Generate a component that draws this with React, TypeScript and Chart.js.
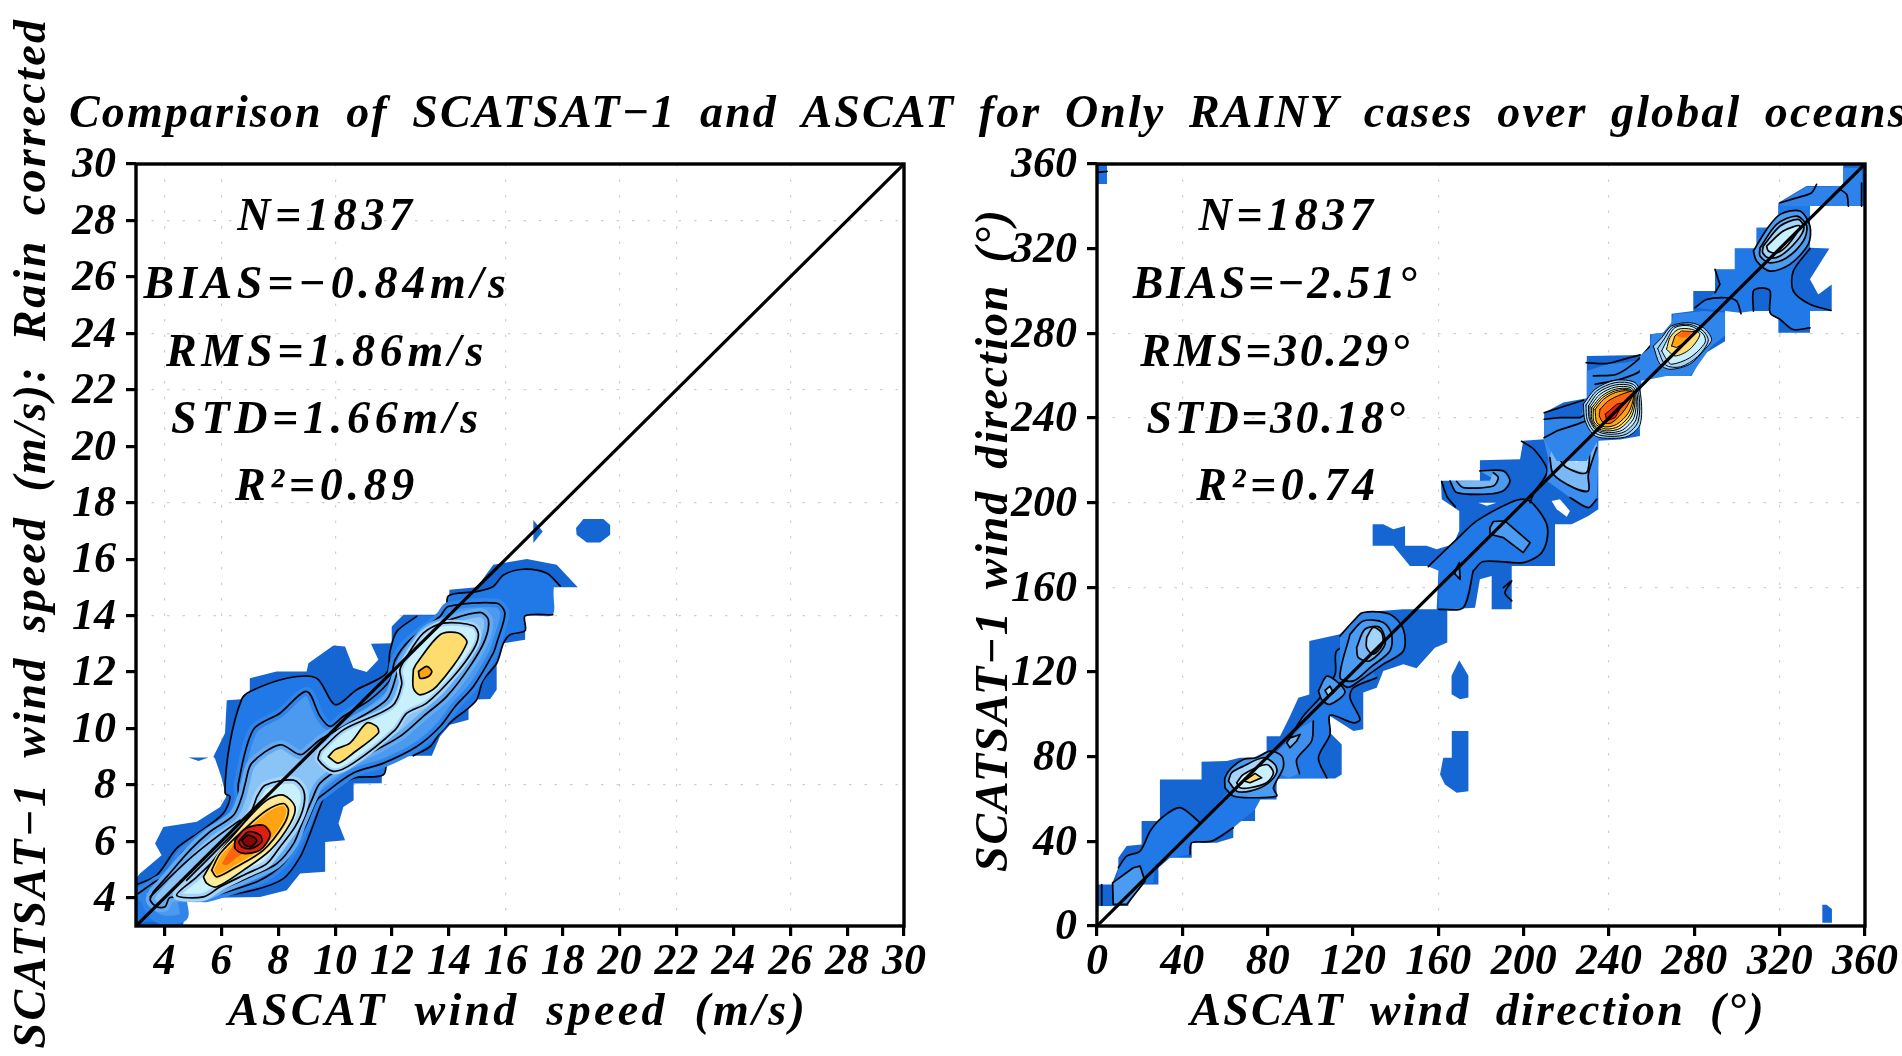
import React, { useEffect, useRef } from "react";
import { Chart, registerables } from "chart.js";

Chart.register(...registerables);

type P = number[][];

// ---------- text ----------
const titleText = "Comparison of SCATSAT\u22121 and ASCAT for Only RAINY cases over global oceans";
const speedYLabel = "SCATSAT\u22121 wind speed (m/s): Rain corrected";
const speedXLabel = "ASCAT wind speed (m/s)";
const dirYLabel = "SCATSAT\u22121 wind direction (\u00b0)";
const dirXLabel = "ASCAT wind direction (\u00b0)";
const speedStats = ["N=1837", "BIAS=\u22120.84m/s", "RMS=1.86m/s", "STD=1.66m/s", "R\u00b2=0.89"];
const dirStats = ["N=1837", "BIAS=\u22122.51\u00b0", "RMS=30.29\u00b0", "STD=30.18\u00b0", "R\u00b2=0.74"];

// ---------- axes ----------
const speedTicks = [4, 6, 8, 10, 12, 14, 16, 18, 20, 22, 24, 26, 28, 30];
const dirTicks = [0, 40, 80, 120, 160, 200, 240, 280, 320, 360];
const speedGridX = [4, 6, 10, 16, 20, 22, 26];
const speedGridY = [8, 14, 18, 22, 24, 28];
const dirGridX = [40, 160, 240, 320];
const dirGridY = [160, 200, 240, 280];
const speedDiagonal: P = [[3, 3], [30, 30]];
const dirDiagonal: P = [[0, 0], [360, 360]];

// ---------- wind speed density contours (x, y in m/s) ----------
const sMask: P = [[3,3],[3,4.68],[3.14,4.86],[3.9,5.51],[3.67,5.92],[3.96,6.51],[5.14,6.69],[5.96,7.22],[6.17,7.58],[6,8.28],[5.78,8.93],[5.72,9],[6.13,9.84],[6.19,11],[6.98,11.05],[7,11.78],[7.94,12.02],[9,12.02],[9.06,12.31],[9.94,12.94],[10.35,12.9],[10.64,12.14],[11.11,12],[11.52,12.43],[11.26,13],[11.99,13.02],[11.99,13.61],[12.4,14.03],[13.98,14.03],[14.02,14.91],[14.98,15],[15.56,15.8],[16.74,16],[17.79,15.8],[18.53,15],[17.68,15],[17.65,14.03],[16.68,13.99],[16.68,13.14],[15.92,13.02],[15.68,12.31],[15.68,11.37],[15.45,11.04],[14.69,11.02],[14.69,10.31],[14.04,10.13],[13.69,9.72],[13.4,9.03],[11.81,9.03],[11.64,8.83],[11.64,8.06],[10.65,8.05],[10.65,7.46],[10.29,7.22],[10.12,6.63],[10.35,6.04],[9.65,5.98],[9.65,4.92],[8.77,4.86],[8.3,4.27],[7.36,4.03],[4.67,3.98],[4.67,3.09],[4.6,3]];
const sBlobA: P = [[18.47,17.1],[18.73,17.42],[19.43,17.42],[19.67,17.21],[19.67,16.86],[19.32,16.59],[18.85,16.59],[18.49,16.86]];
const sBlobB: P = [[16.97,17.39],[17.3,16.98],[16.97,16.57]];
const sBlobC: P = [[4.84,8.97],[5.55,8.97],[5.2,8.85]];
const sLevel2: P = [[3,4.45],[3.73,4.8],[4.43,5.75],[5.25,6.34],[6.07,6.99],[6.31,7.58],[6.13,7.71],[6.3,9.48],[6.71,11.02],[7.01,11.31],[8.3,11.78],[9.35,11.78],[10,10.84],[10.76,11.37],[11.81,11.96],[11.93,12.73],[12.17,13.44],[12.87,13.97],[13.98,14.03],[13.98,14.7],[14.98,14.85],[15.56,15.03],[15.92,15.44],[16.62,15.64],[17.44,15.5],[17.91,15.05],[17.68,15],[17.65,14.03],[16.68,13.99],[16.68,13.47],[16.15,13.32],[15.92,13.02],[15.68,12.31],[15.21,11.72],[14.98,11.02],[14.69,10.72],[14.16,10.31],[13.69,9.84],[13.34,9.36],[12.75,9.03],[11.81,9.03],[11.7,8.36],[10.64,8.24],[9.7,7.71],[9.47,7.22],[9.12,6.28],[8.77,5.45],[8.18,4.68],[7.13,4.27],[5.72,4.03],[4.67,3.98],[4.67,3.27],[3.5,3.15],[3,3.1]];
const sLevel3: P = [[3.08,4.15],[3.67,4.57],[4.2,4.86],[4.61,5.57],[5.37,6.22],[6.31,6.87],[6.6,7.46],[6.6,8.06],[7.12,9.95],[8.06,10.54],[9,11.31],[9.47,10.43],[9.82,10.07],[10.29,10.43],[11.23,11.02],[11.93,11.72],[12.11,12.43],[12.63,13.14],[13.69,13.97],[13.98,14.32],[15.68,14.44],[15.97,14.09],[15.68,13.02],[15.56,12.67],[14.86,11.49],[14.22,10.78],[13.69,10.07],[12.87,9.36],[11.7,8.77],[10.64,8.42],[9.64,7.71],[9.36,7.46],[9,6.63],[8.65,5.92],[8.18,5.21],[7.36,4.62],[6.19,4.21],[5.49,4.01],[4.67,3.98],[4.67,3.33],[3.96,3.21],[3.55,3.44],[3.32,3.92],[3.08,4.15]];
const sLevel4: P = [[3.61,4.21],[4.08,4.74],[4.9,5.69],[5.6,6.34],[6.43,6.93],[6.72,7.58],[6.84,8.05],[7.07,8.77],[8.06,9.42],[8.77,9.07],[9.12,9.3],[9.47,9.6],[10.29,10.07],[11.81,11.02],[12.22,12.08],[12.52,12.67],[13.22,13.5],[14.04,13.85],[15.1,14.11],[15.39,13.85],[15.27,13.14],[14.74,12.2],[13.92,11.13],[13.1,10.43],[12.28,9.72],[11.23,9.13],[10.29,8.66],[9.47,8.06],[9.18,7.46],[8.83,6.63],[8.54,5.92],[7.95,5.21],[7.13,4.8],[6.07,4.33],[5.25,4.01],[4.2,4.01],[4.02,3.68],[3.73,3.68],[3.5,3.92],[3.61,4.21]];
const sCyanUpper: P = [[9.47,9.19],[10.29,9.95],[11.99,10.78],[12.34,11.55],[12.28,12.08],[12.52,12.55],[13.1,13.38],[13.81,13.73],[14.86,13.64],[15.04,13.32],[14.86,12.79],[14.16,11.84],[13.22,10.9],[12.52,10.54],[12.11,9.95],[10.64,8.77],[9.94,8.48],[9.41,8.89],[9.47,9.19]];
const sYellowTop: P = [[12.75,12.08],[12.87,12.31],[13.69,13.32],[14.33,13.38],[14.63,13.02],[13.57,11.49],[12.99,11.19],[12.75,11.43],[12.75,12.08]];
const sOrangeTop: P = [[12.93,12.02],[13.22,12.2],[13.4,12.02],[13.28,11.84],[12.99,11.78],[12.93,12.02]];
const sYellowMid: P = [[9.76,9],[10,9.25],[10.52,9.48],[11.11,10.19],[11.46,10.07],[11.52,9.84],[10.64,9.13],[10.11,8.77],[9.76,9]];
const sCyanLow: P = [[7.25,7.58],[7.54,7.99],[8.54,8.17],[8.89,7.81],[8.89,7.22],[8.59,6.51],[8.07,5.81],[7.6,5.21],[6.9,4.86],[5.96,4.39],[5.37,4.03],[4.43,4.09],[5.14,4.74],[6,5.6],[7,6.95],[7.25,7.58]];
const sYellowLow: P = [[5.37,4.74],[5.72,5.33],[6.78,6.63],[7.6,7.46],[8.18,7.64],[8.59,7.22],[8.42,6.63],[7.72,5.69],[6.78,4.98],[5.84,4.39],[5.49,4.51],[5.37,4.74]];
const sOrange: P = [[5.66,4.98],[5.96,5.57],[6.9,6.51],[7.6,7.1],[8.18,7.34],[8.36,7.1],[8.18,6.57],[7.48,5.69],[6.54,5.1],[5.84,4.74],[5.66,4.98]];
const sOrangeRed: P = [[6.02,5.21],[6.31,5.69],[6.9,6.45],[7.54,6.57],[7.77,6.28],[7.48,5.92],[6.66,5.51],[6.19,5.16],[6.02,5.21]];
const sRed: P = [[6.48,6.04],[6.84,6.45],[7.48,6.57],[7.72,6.22],[7.36,5.69],[6.78,5.57],[6.48,5.75],[6.48,6.04]];
const sDarkRed: P = [[6.6,5.98],[6.95,6.34],[7.36,6.22],[7.42,5.98],[7.07,5.75],[6.72,5.8],[6.6,5.98]];
const sDeepRed: P = [[6.72,6.04],[6.95,6.22],[7.25,6.04],[7.07,5.83],[6.84,5.86],[6.72,6.04]];
const sRidgeA: P = [[3.5,4.03],[4.08,4.62],[4.96,5.45],[5.84,6.16],[6.66,6.75]];
const sRidgeB: P = [[4.78,4.62],[5.37,5.21],[6.19,6.04],[6.84,6.69]];

// ---------- wind direction density contours (x, y in degrees) ----------
const dMask: P = [[0,9.4],[0,19.6],[6.9,19.6],[10,27.5],[10,32.2],[13.9,37.8],[20.9,38.5],[20.9,49.6],[29.5,49.6],[29.5,69.2],[49,69.2],[49,77.6],[60.8,77.9],[67,79.5],[73.3,79.5],[79.5,82.6],[79.5,89.7],[85.8,89.7],[90.5,99.2],[94.4,107.8],[99.5,109.4],[99.5,134.6],[113.9,137.8],[120.2,144.1],[123.3,148.1],[143.6,149.6],[159.2,149.6],[160.2,170.1],[146.7,170.1],[138.9,179.6],[129.2,179.6],[129.2,189.8],[134.2,189.8],[138.9,187.4],[144.4,189],[144.4,179.6],[154.5,179.6],[159.2,178],[167,180.4],[169.8,186.7],[169.8,196.1],[161.6,201.6],[161.2,210.3],[179.5,210.3],[179.5,220],[198.3,220.5],[199.8,229.2],[209.6,230],[209.6,242.5],[218.6,247.3],[229.6,249.3],[229.6,269.3],[255.4,269.8],[259.2,273],[259.2,279.6],[265.4,280.3],[269.3,285],[269.3,289.3],[279.5,290.5],[279.5,300],[289.7,300],[289.7,310.2],[299,310.2],[299,320.1],[309.2,320.1],[309.2,329.9],[319.4,329.9],[319.4,341.7],[332.6,349.6],[349.8,349.6],[349.8,360],[360,360],[360,340.1],[334.2,340.1],[334.2,320.4],[343.3,320.1],[334.2,305.5],[338.1,298.4],[344.4,303.1],[344.4,290.5],[334.2,290.5],[334.2,280.3],[319.4,280.3],[319.4,290.5],[294.4,290.5],[294.4,276.3],[284.2,270],[278.7,259.8],[264.7,259.8],[254.5,258],[254.5,231.5],[245.2,229.9],[235,229.2],[235,196.9],[230.3,193.7],[222.5,189.8],[214.7,189.8],[214.7,170.1],[194.4,170.1],[194.4,149.6],[185,149.6],[185,165.4],[179.5,163.8],[177.2,150.4],[164.2,149.6],[164.2,133.9],[158.4,131.5],[149.8,121.8],[143.6,123.7],[134.2,120.5],[131.1,112.6],[124.8,110.3],[124.8,92.9],[120.2,92.1],[109.2,99.2],[108.4,92.1],[114.7,85.8],[114.7,71.6],[111.6,69.7],[84.2,69.7],[84.2,59.8],[74.1,59.8],[74.1,49.6],[63.9,49.6],[63.9,41.7],[56.1,39.3],[44.4,39.3],[44.4,32.2],[34.2,32.2],[28.8,27.5],[28.8,19.6],[20.2,19.6],[14.7,10.2],[14.7,9.4]];
const dBlobA: P = [[166.2,118.2],[169.8,125.6],[174.1,118.2],[174.1,107.9],[170.2,107.1],[166.2,109.5]];
const dBlobB: P = [[166.3,92.1],[174.1,92.1],[174.1,63.7],[168.6,62.9],[163.1,66.9],[160.8,71.6],[162.3,79.5],[166.3,79.5]];
const dBlobC: P = [[340,1.5],[344.5,1.5],[344.5,8],[342,10],[340,10]];
const dCorner: P = [[0,360],[4.7,360],[4.7,350.5],[0,350.5]];
const dLowRibbon: P = [[10,27.5],[13.9,33],[20.2,35.4],[24.9,44.8],[30.3,51.1],[38.9,55.9],[48.3,48.8],[60,62],[70,72],[85,75],[74.1,55.1],[63.9,46.4],[53.8,40.1],[44.4,39.3],[43.6,33.8],[34.2,32.2],[27.2,29.1],[26.4,20.4],[20.2,19.6],[14.7,10.2],[9,20]];
const dFoot: P = [[7.3,20.4],[17,27.5],[20.2,28.3],[22.5,21.2],[13.9,10.2],[7.6,10.2],[7.3,20.4]];
const d70a: P = [[60,65.3],[60,70],[63.1,74.8],[68.6,78.7],[74.8,79.5],[81.1,82.6],[86.6,80.3],[87.3,74.8],[82.7,65.3],[84.2,61.4],[71.7,60.6],[63.9,61.4],[60,65.3]];
const d70b: P = [[61.6,68.5],[63.1,72.4],[68.6,75.5],[78,79.5],[83.4,76.3],[84.2,72.4],[79.5,66.9],[71.7,63.7],[65.5,63.7],[61.6,68.5]];
const d70c: P = [[65.5,67.7],[68.6,71.6],[79.5,76.3],[82.7,72.4],[79.5,67.7],[71.7,65.3],[67,65.3],[65.5,67.7]];
const d70d: P = [[68.9,68.5],[74.1,72.1],[77.2,70],[71.7,67.7],[68.9,68.5]];
const dMidBand: P = [[85.8,80.3],[90.5,88.9],[96.7,99.2],[104.5,107.8],[111.6,118.9],[112.3,129.9],[121.7,133.8],[131.1,117.3],[120.2,112.6],[118.6,107.8],[123.3,97.6],[120.2,96],[109.2,99.6],[109.2,90.5],[103.8,79.5],[107.7,70],[84.2,69.7]];
const dMidInner: P = [[85.8,71.6],[84,82],[96,94],[101.4,96.8],[100.6,87.4],[93.6,78.7],[94.9,72],[90,70]];
const dMidLoop: P = [[88.9,86.6],[90.5,88.9],[95.2,90.5],[93.6,87.4],[90.5,84.2],[88.9,86.6]];
const d110a: P = [[103.8,111],[107.7,118],[113.1,114.9],[116.2,110.2],[109.2,104.7],[105.3,107],[103.8,111]];
const d110b: P = [[106.9,111.3],[109.2,113.3],[110.8,110.2],[108.4,108.6],[106.9,111.3]];
const d130a: P = [[113.9,137],[120.2,144.1],[124.8,148.1],[137.3,147.3],[143.6,140.2],[143.6,129.9],[134.2,123.7],[124.1,116.6],[117.8,112.7],[113.9,115]];
const d130b: P = [[118.6,137.8],[124.8,144.1],[134.2,143.4],[138.1,137.8],[137.3,129.9],[128,122.1],[120.2,115.8],[113.9,117.4],[118.6,137.8]];
const d130c: P = [[121.7,131.5],[125.6,140.2],[132.6,141],[135,133.1],[128,125.3],[122.5,126.8],[121.7,131.5]];
const d130d: P = [[126.4,136.3],[129.5,141],[133.4,138.6],[133.9,133.1],[129.5,128.4],[126.4,131.5],[126.4,136.3]];
const d180: P = [[155.3,169.8],[169.4,183.5],[178,191.4],[193.6,200],[200.6,201.6],[205.3,198.5],[210.8,189.8],[210.8,181.9],[207.7,175.6],[199.8,171.7],[181.1,172.2],[176.4,167.8],[171.7,150.4],[160.2,149.6],[160.2,167.8]];
const d180Loop: P = [[184.2,188.2],[185.8,191.1],[191.2,191.4],[203,181.1],[199.8,176.4],[190.5,183.5],[184.2,185.1],[184.2,188.2]];
const d165Loop: P = [[167.8,167.8],[169.8,171.7],[170.2,163.8],[167.8,166.2],[167.8,167.8]];
const d190Line: P = [[190.5,159.9],[194.4,163],[191.2,157.5],[194.4,153.6]];
const dHoleA: P = [[178.7,200],[187.3,200],[182.7,198.5]];
const dHoleB: P = [[213.1,200.8],[217,201.6],[221.7,196.1],[220.2,193.3],[215.5,196.9]];
const d205a: P = [[165.5,210.3],[168.6,204.8],[182.7,204],[190.5,205.6],[193.6,210.3],[190.5,215],[179.5,215],[187.3,210.3]];
const d205b: P = [[168.6,210],[171.7,207.1],[185.8,207.9],[188.1,211.9],[185.8,214.2],[184.2,210.3]];
const d205Line: P = [[161.6,210],[164,203],[168,198]];
const d225a: P = [[209.2,230.8],[211.6,220.5],[210.8,210.3],[221.7,202.4],[230.3,197.7],[234.2,201.6],[235,219.7],[234.2,233.9]];
const d225b: P = [[212.3,221.3],[213.9,229.2],[220.1,233.9],[234.2,233.9],[234.2,226],[230.3,213.4],[230.3,205.6],[223.3,207.1],[213.9,213.4],[212.3,221.3]];
const d225c: P = [[215.5,222.9],[218.6,229.2],[224.8,233.9],[231.1,233.9],[231.1,227.6],[229.5,214.2],[220.1,216.6],[215.5,222.9]];
const d225d: P = [[221.7,221.3],[224.1,227.6],[231.1,233.9],[235,233.9],[229.5,222.9],[224.8,218.9],[221.7,221.3]];
const d200Line: P = [[199,229],[205,225],[211,215],[205,205],[203,200]];
const d240Base: P = [[209.6,239.4],[217.1,240.2],[226.5,240.2],[229.6,248.8],[229.6,262.2],[239,265.4],[248.3,266.2],[255.4,267.7],[254.6,234.7],[245.2,230.7],[235,230],[229.6,219.7],[215.5,219.7],[209.6,230]];
const d240a: P = [[228,246.5],[233.5,253.6],[242.9,257.8],[252.2,256.7],[254.9,250.4],[254.6,237],[249.1,231.5],[241.3,230.4],[233.5,231.5],[228.8,238.6],[228,246.5]];
const d240a2: P = [[229.2,246.1],[234.2,252.8],[242.9,256.7],[251.4,255.9],[254.1,250.4],[253.6,238.2],[248.3,232.5],[240.9,231.3],[233.9,232.7],[229.8,239],[229.2,246.1]];
const d240b: P = [[230.4,245.7],[235,252],[242.9,255.6],[250.7,255.1],[253.3,250.4],[252.7,239.4],[247.5,233.6],[240.5,232.3],[234.3,233.9],[230.8,239.4],[230.4,245.7]];
const d240b2: P = [[231.1,245.3],[235.8,251.2],[242.9,254.6],[250.3,254.3],[252.7,250],[251.7,240.2],[246.3,234.3],[239.7,233.1],[234.3,234.7],[231.3,239.4],[231.1,245.3]];
const d240c: P = [[231.9,244.9],[236.6,250.4],[242.9,253.6],[249.9,253.6],[252.2,249.6],[250.7,241],[245.2,235.1],[239,233.9],[234.3,235.5],[231.9,239.4],[231.9,244.9]];
const d240c2: P = [[232.7,244.5],[237,249.6],[242.9,252.8],[249.5,253.2],[251.8,250],[249.9,241.7],[244.4,236],[238.6,234.8],[234.3,236.6],[232.7,239],[232.7,244.5]];
const d240d: P = [[233.5,244.1],[237.4,248.8],[242.9,252],[249.1,252.8],[251.5,250.4],[249.1,242.5],[243.6,237],[238.2,235.8],[234.3,237.8],[233.5,244.1]];
const d240e: P = [[235.8,244.1],[239.7,248.1],[246,251.2],[251.5,252.5],[247.5,244.1],[241.3,237.8],[237.4,237.8],[235.5,241],[235.8,244.1]];
const d240f: P = [[238.2,241.8],[243.6,246.5],[246.8,247.3],[242.9,240.2],[239,238.6],[238.2,241.8]];
const d240Line1: P = [[209.6,242.5],[219.4,245.7],[228,248.4]];
const d240Line2: P = [[209.6,239.4],[217.1,240.2],[226.5,240.2],[231.1,243]];
const d240Line3: P = [[209.6,230.7],[215.5,233.9],[224.9,237],[231.1,239.4]];
const d240Line4: P = [[229.3,266.2],[238.9,265.7],[246.8,267.7],[254.6,269.8]];
const d240Line5: P = [[232.7,259.9],[243.6,260.7],[253,267],[260,274.8]];
const d240Line6: P = [[233.5,255.9],[245.2,258.3],[254.6,262.2],[260.8,271.7]];
const d280Base: P = [[254.5,269.3],[259.2,273.3],[260,279.6],[265.4,280.3],[269.3,285],[270.1,289],[277.9,289.8],[284.2,290.6],[294.3,289.8],[294.3,278.8],[288.1,274],[282.6,266.2],[278,259.9],[267,259.9],[259.2,258.3],[254.5,257.5]];
const d280a: P = [[260.8,274],[264.7,278],[269.3,283.5],[277.9,285],[284.2,282.7],[288.1,277.2],[285,272.5],[277.9,265.4],[268.6,263],[263.9,265.4],[260.8,274]];
const d280a2: P = [[262.8,272.8],[265.8,277.2],[270.1,283.1],[277.9,284.2],[284.2,281.1],[286.5,276.4],[281.5,269],[273.6,264.2],[266.5,265],[262.8,272.8]];
const d280b: P = [[264.7,271.7],[267,276.4],[270.9,282.7],[277.9,283.5],[284.2,279.6],[285,275.6],[277.9,268.5],[269.3,265.4],[267,267.7],[264.7,271.7]];
const d280c: P = [[267,272.5],[268.6,278],[272.5,281.9],[278.7,281.9],[282.6,279.6],[277.9,272.5],[270.9,269.3],[267,272.5]];
const d280d: P = [[269.3,274],[270.9,278.8],[274,281.1],[280.3,280.8],[275.6,275.6],[271.7,273.3],[269.3,274]];
const d280e: P = [[271.7,278.8],[274.8,280.8],[279.5,280.8],[276.4,278],[274,278],[271.7,278.8]];
const dUpper: P = [[280.3,292.1],[289.7,299.2],[292,303.1],[289.7,310.2],[299,310.2],[299,320.1],[307.7,320.1],[334.2,320.1],[326.4,309.4],[326.4,300],[334.2,293.7],[343.6,290.5],[334.2,290.5],[334.2,282.6],[326.4,281.8],[320.2,286.6],[315.5,289.7],[315.5,300],[311.6,301.5],[307.7,300],[307.7,290.5],[301.4,289.7],[294.4,290.5]];
const dUpperB: P = [[309.2,320.1],[309.2,329.9],[319.4,329.9],[319.4,340.1],[334.2,340.1],[334.2,320.1]];
const dTopBand: P = [[320.2,340.1],[320.2,341.7],[332.6,349.1],[349.8,349.6],[349.8,358.2],[358.4,358.2],[359.2,340.1]];
const dUpperLine1: P = [[280.3,292.1],[285.8,296],[295.2,296.8],[299.8,295.2],[301.9,289.3]];
const dUpperLine2: P = [[307.7,290.5],[307.7,300],[311.6,301.5],[315.5,300],[315.5,289.7],[320.2,286.6],[326.4,281.8],[334.2,282.6]];
const dUpperLine3: P = [[334.2,320.1],[326.4,309.4],[326.4,300],[334.2,293.7],[344,290.8]];
const dUpperLine4: P = [[320.2,341.7],[328,344],[335,346.4],[337.3,350.4]];
const dUpperLine5: P = [[348.3,348],[351.4,345.6],[352.2,340.1]];
const dUpperLine6: P = [[358.4,351],[358.4,340.1]];
const dUpperLine7: P = [[289.7,299.2],[292,303.1],[289.7,310.2]];
const d320a: P = [[307.7,318.9],[313.9,329.1],[320.2,336.2],[329.5,337.8],[334.2,330.7],[333.4,322],[324.8,312.6],[315.5,309.4],[309.2,314.1],[307.7,318.9]];
const d320b: P = [[310.8,320.4],[318.6,331.5],[328,335.4],[332.7,330.7],[331.1,323.6],[323.3,315.7],[315.5,313.3],[310.8,316.5],[310.8,320.4]];
const d320c: P = [[312.3,321.2],[320.2,330.7],[328.7,333.8],[331.4,329.9],[328,323.6],[320.2,316.5],[314.7,315.7],[312,318.1],[312.3,321.2]];
const d320d: P = [[313.9,321.2],[321.7,328.3],[329.5,330.7],[324,322],[318.6,318],[314.7,318.9],[313.9,321.2]];
const dStripLine: P = [[2.2,19.6],[2.2,10]];
const dCornerLine: P = [[0.5,356],[4.7,356.5]];

// ---------- colours ----------
const C = {
  mask: "#1565d3", l2: "#2079e6", l3: "#3f90ee", l4: "#72b4f5", l5: "#a4d4fa",
  cyan: "#c9f1fd", pale: "#fdeb9c", yellow: "#fedd6e", orange: "#ffa313",
  orangeRed: "#ff6410", red: "#dc1f10", darkRed: "#b50e10", deepRed: "#8a0508",
};

interface Layer { d: P; fill?: string; line?: boolean; thin?: boolean; band?: string; bandW?: number; soft?: boolean; }

const speedLayers: Layer[] = [
  { d: sMask, fill: C.mask },
  { d: sBlobA, fill: C.mask }, { d: sBlobB, fill: C.mask }, { d: sBlobC, fill: C.mask },
  { d: sLevel2, fill: C.l2, soft: true },
  { d: sLevel2.slice(0, 18), line: true, soft: true },
  { d: sLevel2.slice(18, 26), line: true, soft: true },
  { d: sLevel2.slice(27, 40), line: true, soft: true },
  { d: sLevel2.slice(40, 51), line: true, soft: true },
  { d: sLevel3, fill: "#4b9af0", band: "#2f85ea", bandW: 9, soft: true },
  { d: sLevel3.slice(0, 39), line: true, soft: true },
  { d: sLevel4, fill: "#8ac4f7", band: "#63aaf3", bandW: 9, soft: true },
  { d: sLevel4, line: true, soft: true },
  { d: sCyanLow, fill: C.cyan, band: C.l5, bandW: 8, soft: true },
  { d: sCyanLow, line: true, soft: true },
  { d: sCyanUpper, fill: C.cyan, band: C.l5, bandW: 6, soft: true },
  { d: sCyanUpper, line: true, soft: true },
  { d: sRidgeA, line: true, soft: true }, { d: sRidgeB, line: true, soft: true },
  { d: sYellowTop, fill: C.yellow, line: true, soft: true },
  { d: sOrangeTop, fill: C.orange, line: true, soft: true },
  { d: sYellowMid, fill: C.yellow, line: true, soft: true },
  { d: sYellowLow, fill: C.pale, line: true, soft: true },
  { d: sOrange, fill: C.yellow, line: true, soft: true },
  { d: sOrange, fill: C.orange, band: C.yellow, bandW: 4, soft: true },
  { d: sOrange, line: true, soft: true },
  { d: sOrangeRed, fill: C.orangeRed, soft: true },
  { d: sRed, fill: C.red, line: true, soft: true },
  { d: sDarkRed, fill: C.darkRed, line: true, soft: true },
  { d: sDeepRed, fill: C.deepRed, line: true, soft: true },
];

const dirLayers: Layer[] = [
  { d: dMask, fill: C.mask },
  { d: dBlobA, fill: C.mask }, { d: dBlobB, fill: C.mask }, { d: dBlobC, fill: C.mask },
  { d: dCorner, fill: "#1d70e2" },
  { d: dLowRibbon, fill: C.l2 },
  { d: dLowRibbon.slice(0, 7), line: true, soft: true },
  { d: dLowRibbon.slice(11, 15), line: true, soft: true },
  { d: dFoot, fill: "#4a9cf2", line: true },
  { d: dMidBand, fill: C.l2 },
  { d: dMidBand.slice(0, 7), line: true, soft: true },
  { d: dMidBand.slice(7, 16), line: true, soft: true },
  { d: dMidInner, fill: "#3f90ee" },
  { d: dMidInner.slice(3, 7), line: true, soft: true },
  { d: dMidLoop, fill: "#7ab8f5", line: true },
  { d: d70a, fill: "#4a9cf2", line: true, soft: true },
  { d: d70b, fill: C.l5, line: true, soft: true },
  { d: d70c, fill: C.cyan, line: true, soft: true },
  { d: d70d, fill: C.yellow, line: true },
  { d: d110a, fill: "#4a9cf2", line: true, soft: true },
  { d: d110b, fill: C.l5, line: true },
  { d: d130a, fill: "#2f85ea", line: true, soft: true },
  { d: d130b, fill: "#4a9cf2", line: true, soft: true },
  { d: d130c, fill: "#7ab8f5", line: true, soft: true },
  { d: d130d, fill: C.l5, line: true, soft: true },
  { d: d180, fill: C.l2 },
  { d: d180.slice(0, 12), line: true, soft: true },
  { d: d180.slice(11, 14), line: true, soft: true },
  { d: d180Loop, fill: "#4a9cf2", line: true },
  { d: d165Loop, fill: "#4a9cf2", line: true },
  { d: d190Line, line: true, soft: true },
  { d: d205Line, line: true, soft: true },
  { d: d200Line, line: true, soft: true },
  { d: d205a, fill: "#4a9cf2" },
  { d: d205a.slice(0, 7), line: true, soft: true },
  { d: d205b, fill: "#7ab8f5" },
  { d: d205b.slice(0, 5), line: true, soft: true },
  { d: dHoleA, fill: "#ffffff" }, { d: dHoleB, fill: "#ffffff" },
  { d: d225a, fill: "#3b8eef" },
  { d: d225a.slice(3, 6), line: true, soft: true },
  { d: d225b, fill: "#7ab8f5" },
  { d: d225b.slice(4, 10), line: true, soft: true },
  { d: d225c, fill: C.l5 },
  { d: d225c.slice(4, 8), line: true, soft: true },
  { d: d225d, fill: C.cyan },
  { d: d240Base, fill: "#2f85ea" },
  { d: d240Line1, line: true }, { d: d240Line2, line: true }, { d: d240Line3, line: true },
  { d: d240Line4, line: true, soft: true }, { d: d240Line5, line: true, soft: true }, { d: d240Line6, line: true, soft: true },
  { d: d240a, fill: C.l5, line: true, thin: true, soft: true },
  { d: d240a2, line: true, thin: true, soft: true },
  { d: d240b, fill: C.cyan, line: true, thin: true, soft: true },
  { d: d240b2, line: true, thin: true, soft: true },
  { d: d240c, fill: C.yellow, line: true, thin: true, soft: true },
  { d: d240c2, line: true, thin: true, soft: true },
  { d: d240d, fill: C.orange, line: true, thin: true, soft: true },
  { d: d240e, fill: C.orangeRed, line: true, thin: true, soft: true },
  { d: d240f, fill: C.red, line: true, thin: true },
  { d: d280Base, fill: "#2f85ea" },
  { d: d280a, fill: C.l5, line: true, thin: true, soft: true },
  { d: d280a2, line: true, thin: true, soft: true },
  { d: d280b, fill: C.cyan, line: true, thin: true, soft: true },
  { d: d280c, fill: C.yellow, line: true, thin: true, soft: true },
  { d: d280d, fill: C.orange, line: true, thin: true },
  { d: d280e, fill: C.orangeRed },
  { d: dUpper, fill: "#2079e6" },
  { d: dUpperB, fill: "#2079e6" },
  { d: dTopBand, fill: "#2e82ea" },
  { d: dUpperLine1, line: true, soft: true }, { d: dUpperLine2, line: true, soft: true },
  { d: dUpperLine3, line: true, soft: true }, { d: dUpperLine4, line: true, soft: true },
  { d: dUpperLine5, line: true, soft: true }, { d: dUpperLine6, line: true }, { d: dUpperLine7, line: true },
  { d: d320a, fill: "#4a9cf2", line: true, soft: true },
  { d: d320b, fill: "#7ab8f5", line: true, soft: true },
  { d: d320c, fill: C.l5, line: true, soft: true },
  { d: d320d, fill: C.cyan, line: true, soft: true },
  { d: dStripLine, line: true }, { d: dCornerLine, line: true },
];

const FONT = "'Liberation Serif'";
const ink = "#000000";

interface TextItem { t: string; x: number; y: number; rot?: number; size: number; sp: number; align?: CanvasTextAlign; ws?: number; }

const statRows = [218, 286, 354, 421, 488];
const speedTexts: TextItem[] = [
  { t: titleText, x: 69, y: 115, size: 46, sp: 2.1, align: "left", ws: 10 },
  { t: speedYLabel, x: 33, y: 533, rot: -90, size: 46, sp: 2.4, ws: 10 },
  { t: speedXLabel, x: 518, y: 1013, size: 46, sp: 3.3, ws: 12 },
  ...speedStats.map((t, i) => ({ t, x: 327, y: statRows[i], size: 46, sp: 4.7 })),
];
const dirTexts: TextItem[] = [
  { t: dirYLabel, x: 995, y: 540, rot: -90, size: 46, sp: 1.8, ws: 8 },
  { t: dirXLabel, x: 1478, y: 1013, size: 46, sp: 2.3, ws: 11 },
  ...dirStats.map((t, i) => ({ t, x: [1288, 1276, 1276, 1277, 1288][i], y: statRows[i], size: 46, sp: [4.6, 2.6, 2.6, 2.6, 4.6][i] })),
];

function makeChart(
  canvas: HTMLCanvasElement, layers: Layer[], diagonal: P, range: number[], ticks: number[],
  gridX: number[], gridY: number[], area: { l: number; t: number; r: number; b: number }, texts: TextItem[],
) {
  const datasets: any[] = [];
  for (const L of layers) {
    const data = L.d.map(([x, y]) => ({ x, y }));
    const base = { data, showLine: true, pointRadius: 0, tension: L.soft ? 0.3 : 0, borderJoinStyle: "round", borderCapStyle: "round" };
    if (L.fill) datasets.push({ ...base, fill: "shape", backgroundColor: L.fill, borderWidth: 0, borderColor: "transparent" });
    if (L.band) datasets.push({ ...base, fill: false, borderColor: L.band, borderWidth: L.bandW });
    if (L.line) datasets.push({ ...base, fill: false, borderColor: ink, borderWidth: L.thin ? 1 : 1.7 });
  }
  datasets.push({ data: diagonal.map(([x, y]) => ({ x, y })), showLine: true, pointRadius: 0, fill: false, borderColor: ink, borderWidth: 3.2 });
  datasets.reverse();

  const frame = {
    id: "frame",
    afterDatasetsDraw(chart: any) {
      const { left, top, width, height } = chart.chartArea;
      const ctx = chart.ctx;
      ctx.save();
      ctx.strokeStyle = ink;
      ctx.lineWidth = 3.4;
      ctx.strokeRect(left, top, width, height);
      ctx.restore();
    },
    afterDraw(chart: any) {
      const ctx = chart.ctx;
      ctx.save();
      ctx.fillStyle = ink;
      ctx.textBaseline = "middle";
      for (const T of texts) {
        ctx.save();
        ctx.translate(T.x, T.y);
        if (T.rot) ctx.rotate((T.rot * Math.PI) / 180);
        ctx.font = `italic bold ${T.size}px ${FONT}`;
        (ctx as any).letterSpacing = `${T.sp}px`;
        (ctx as any).wordSpacing = `${T.ws ?? 0}px`;
        ctx.textAlign = T.align ?? "center";
        ctx.fillText(T.t, 0, 0);
        ctx.restore();
      }
      ctx.restore();
    },
  };

  const gridColor = (list: number[]) => (c: any) => (list.includes(c.tick?.value) ? "#cfcfcf" : "transparent");
  const axis = (list: number[], fit: (s: any) => void, pad: number, offset: number) => ({
    type: "linear",
    min: range[0],
    max: range[1],
    afterBuildTicks: (s: any) => { s.ticks = ticks.map((value) => ({ value })); },
    afterFit: fit,
    border: { display: false, dash: [2.5, 13] },
    grid: { color: gridColor(list), lineWidth: 1.2, tickColor: ink, tickWidth: 3.2, tickLength: 10, tickBorderDash: [] },
    ticks: {
      autoSkip: false, maxRotation: 0, minRotation: 0, padding: pad, labelOffset: offset, color: ink,
      font: { family: FONT, style: "italic", weight: "bold", size: 44 },
      callback: (v: any) => String(v),
    },
  });

  return new Chart(canvas, {
    type: "scatter",
    data: { datasets },
    plugins: [frame],
    options: {
      animation: false,
      responsive: false,
      layout: { padding: { left: 0, top: area.t, right: 1902 - area.r, bottom: 1056 - area.b - 60 } },
      plugins: { legend: { display: false }, tooltip: { enabled: false }, title: { display: false } },
      scales: {
        x: axis(gridX, (s: any) => { s.height = 60; }, 0, 0),
        y: axis(gridY, (s: any) => { s.width = area.l; }, 10, 2),
      },
    } as any,
  });
}

export default function App() {
  const a = useRef<HTMLCanvasElement>(null);
  const b = useRef<HTMLCanvasElement>(null);
  useEffect(() => {
    const c1 = makeChart(a.current!, speedLayers, speedDiagonal, [3, 30], speedTicks, speedGridX, speedGridY,
      { l: 136, t: 164, r: 904, b: 926 }, speedTexts);
    const c2 = makeChart(b.current!, dirLayers, dirDiagonal, [0, 360], dirTicks, dirGridX, dirGridY,
      { l: 1097, t: 164, r: 1865, b: 926 }, dirTexts);
    return () => { c1.destroy(); c2.destroy(); };
  }, []);
  const st: React.CSSProperties = { position: "absolute", left: 0, top: 0, width: 1902, height: 1056, filter: "blur(0.6px)" };
  return (
    <div style={{ position: "absolute", left: 0, top: 0, width: 1902, height: 1056, overflow: "hidden", background: "#fff" }}>
      <canvas ref={a} width={1902} height={1056} style={st} />
      <canvas ref={b} width={1902} height={1056} style={st} />
    </div>
  );
}
